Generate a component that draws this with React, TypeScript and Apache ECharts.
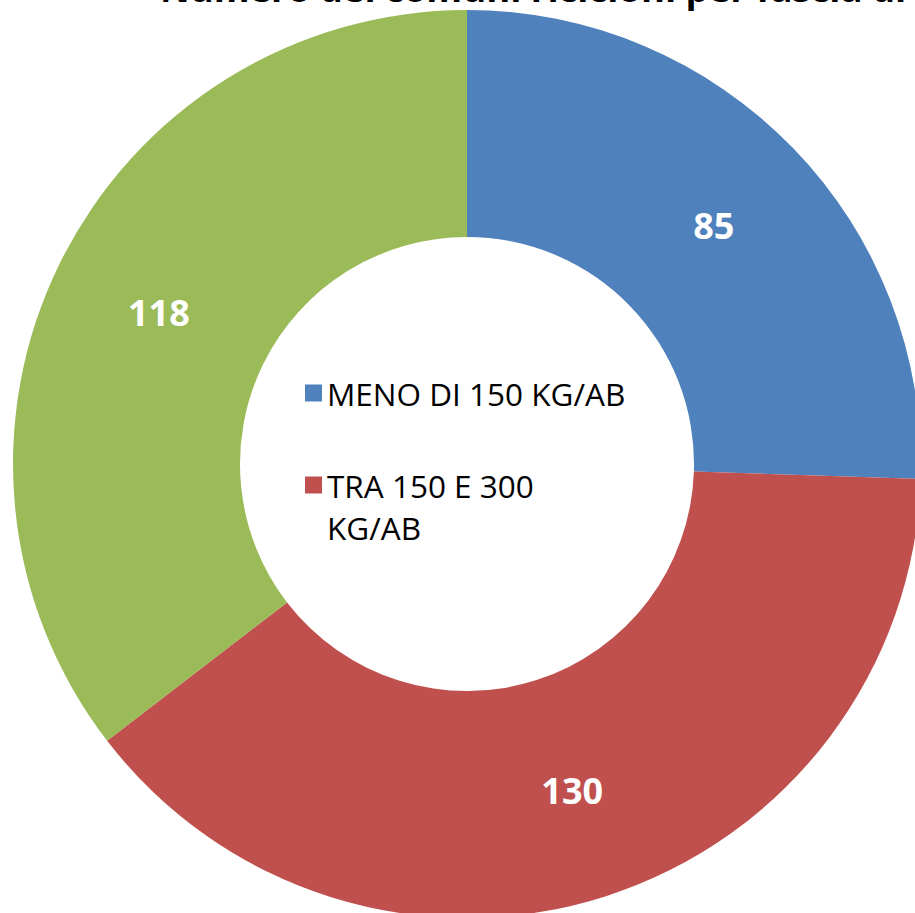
import React, { useEffect, useRef } from "react";
import * as echarts from "echarts";

const TITLE = "Numero dei comuni ricicloni per fascia di produzione";
const categories = ["MENO DI 150 KG/AB", "TRA 150 E 300\nKG/AB", "OLTRE 300 KG/AB"];
const values = [85, 130, 118];
const colors = ["#4F81BD", "#C0504D", "#9BBB59"];
const legendShown = [categories[0], categories[1]];

export default function App() {
  const ref = useRef<HTMLDivElement>(null);
  useEffect(() => {
    if (!ref.current) return;
    const chart = echarts.init(ref.current, undefined, { renderer: "svg" });
    chart.setOption({
      animation: false,
      backgroundColor: "#ffffff",
      title: {
        text: TITLE,
        left: 160,
        top: -30.5,
        padding: 0,
        textStyle: { fontFamily: "Open Sans", fontSize: 36.5, fontWeight: "bold", color: "#000000" },
      },
      legend: {
        orient: "vertical",
        left: 300,
        top: 367,
        itemWidth: 17,
        itemHeight: 17,
        itemGap: 8,
        icon: "rect",
        data: legendShown.map((name) => ({ name })),
        formatter: (name: string) => (name.indexOf("\n") >= 0 ? "\n" + name : name),
        textStyle: { fontFamily: "Open Sans", fontSize: 31.5, color: "#000000", lineHeight: 42 },
        selectedMode: false,
      },
      series: [
        {
          type: "pie",
          center: [467, 464],
          radius: [227, 454],
          startAngle: 90,
          clockwise: true,
          silent: true,
          label: {
            show: true,
            position: "inside",
            formatter: "{c}",
            color: "#ffffff",
            fontFamily: "Open Sans",
            fontWeight: "bold",
            fontSize: 36,
          },
          labelLine: { show: false },
          itemStyle: { borderWidth: 0 },
          data: categories.map((name, i) => ({ name, value: values[i], itemStyle: { color: colors[i] } })),
        },
      ],
    });
    return () => chart.dispose();
  }, []);
  return <div ref={ref} style={{ position: "fixed", left: 0, top: 0, width: 915, height: 913 }} />;
}
